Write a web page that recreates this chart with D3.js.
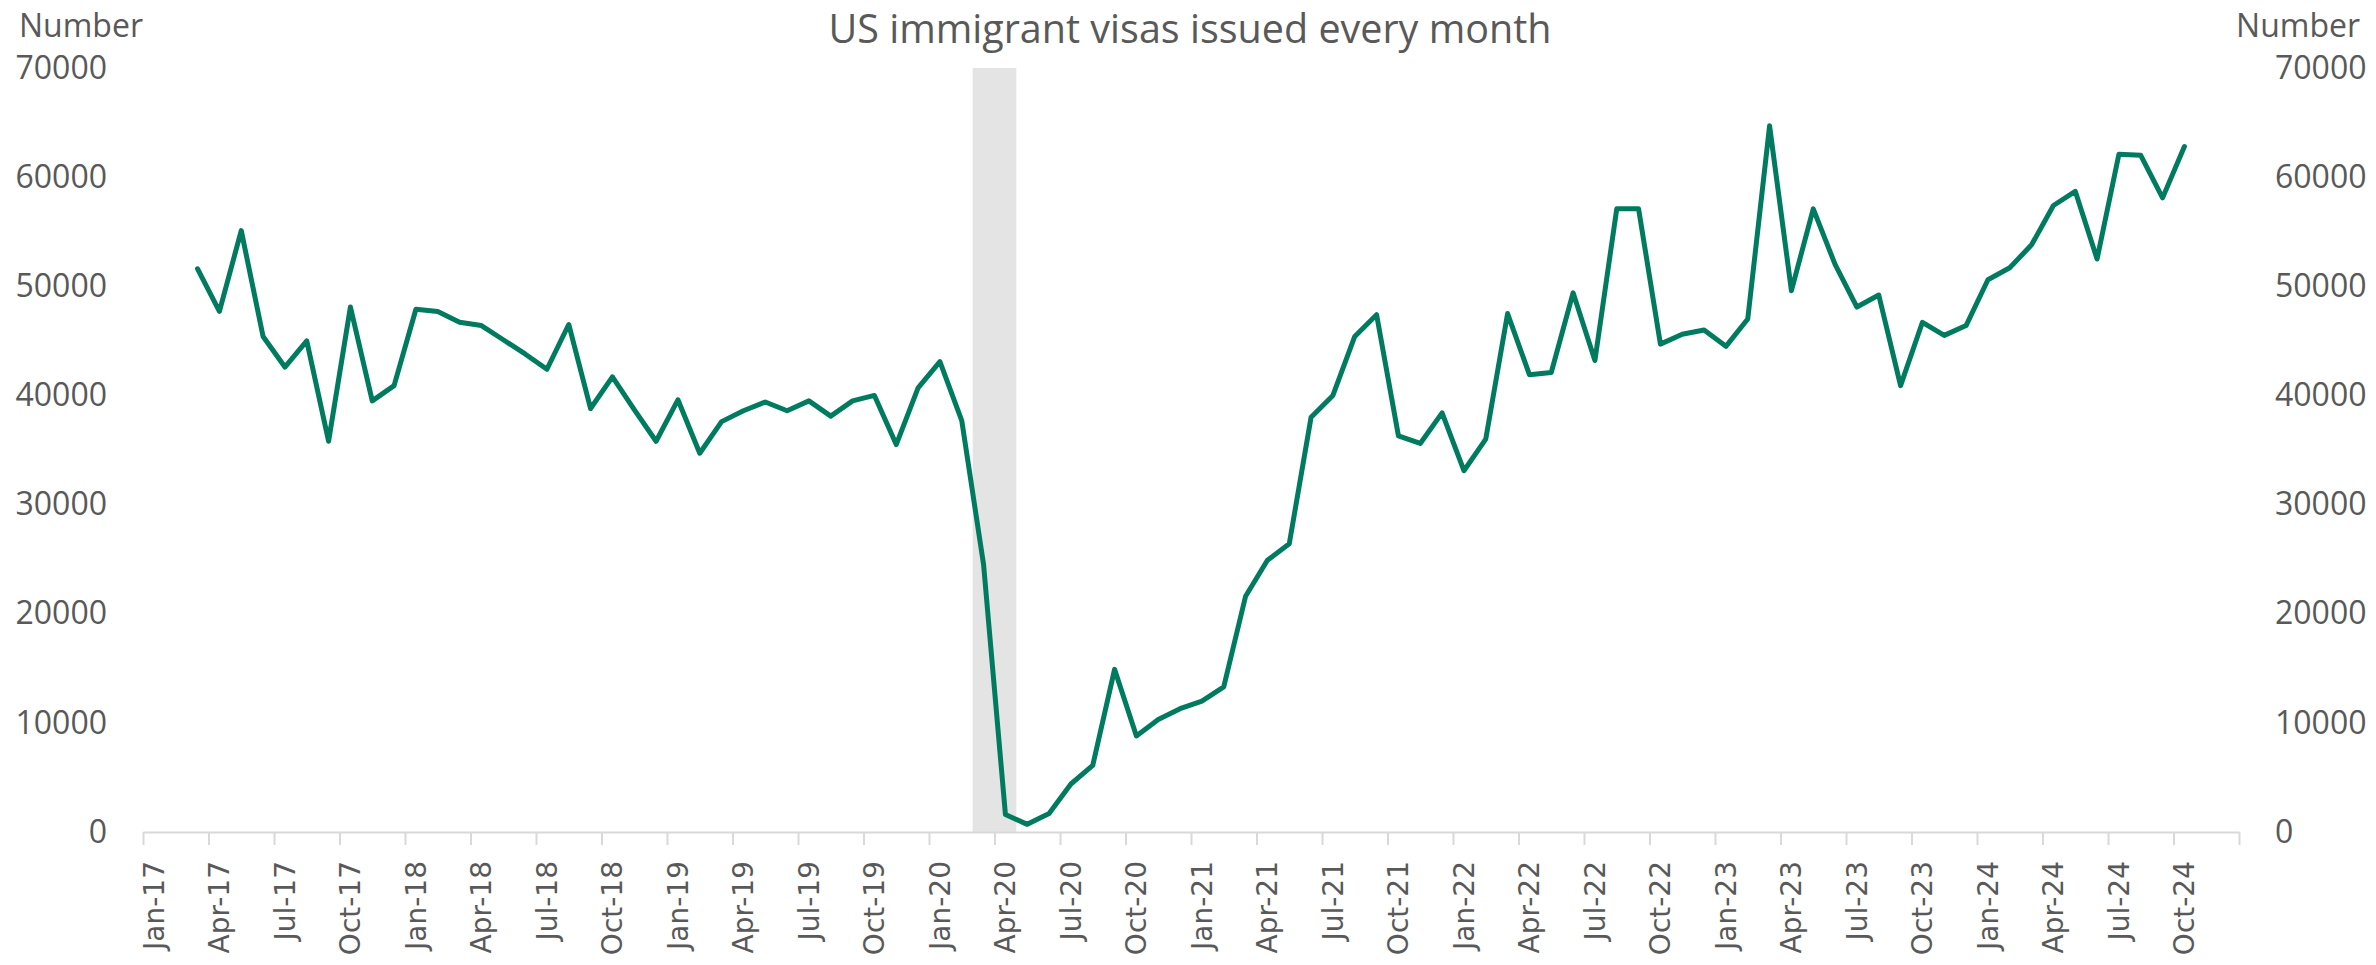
<!DOCTYPE html>
<html>
<head>
<meta charset="utf-8">
<script src="https://cdn.jsdelivr.net/npm/d3@7"></script>
<style>
  body { margin: 0; background: #ffffff; }
  text { font-family: "Open Sans", sans-serif; fill: #595959; }
</style>
</head>
<body>
<div id="chart"></div>
<script>
// month categories, Jan-17 .. Dec-24
var years = ["17", "18", "19", "20", "21", "22", "23", "24"];
var monthNames = ["Jan", "Feb", "Mar", "Apr", "May", "Jun", "Jul", "Aug", "Sep", "Oct", "Nov", "Dec"];
var months = [];
years.forEach(function(y) {
  monthNames.forEach(function(m) { months.push(m + "-" + y); });
});

// visas issued each month, Mar-17 .. Oct-24
var firstMonth = "Mar-17";
var visas = [
  51600, 47700, 55100, 45400, 42600, 45000, 35800, 48100, 39500, 40900,
  47900, 47700, 46700, 46400, 45100, 43800, 42400, 46500, 38800, 41700, 38700, 35800,
  39600, 34700, 37600, 38600, 39400, 38600, 39500, 38100, 39500, 40000, 35500, 40700,
  43100, 37700, 24500, 1600, 700, 1700, 4400, 6100, 14900, 8800, 10300, 11300,
  12000, 13300, 21600, 24900, 26400, 38000, 40000, 45400, 47400, 36300, 35600, 38400,
  33100, 36000, 47500, 41900, 42100, 49400, 43200, 57100, 57100, 44700, 45600, 46000,
  44500, 47000, 64700, 49600, 57100, 52000, 48100, 49200, 40900, 46700, 45500, 46400,
  50600, 51700, 53800, 57400, 58700, 52500, 62100, 62000, 58100, 62800
];

var yTicks = [0, 10000, 20000, 30000, 40000, 50000, 60000, 70000];
var shadedMonths = ["Mar-20", "Apr-20"];
var title = "US immigrant visas issued every month";
var axisTitle = "Number";

var svgWidth = 2376;
var svgHeight = 965;
var margin = { top: 68, bottom: 133, left: 143, right: 137 };
var width = svgWidth - margin.left - margin.right;
var height = svgHeight - margin.top - margin.bottom;

var svg = d3.select("#chart")
  .append("svg")
  .attr("width", svgWidth)
  .attr("height", svgHeight);

var chartGroup = svg.append("g")
  .attr("transform", `translate(${margin.left}, ${margin.top})`);

var start = months.indexOf(firstMonth);
var data = visas.map(function(v, i) {
  return { month: months[start + i], value: v };
});

// scales
var xBand = d3.scaleBand()
  .domain(months)
  .range([0, width])
  .padding(0);
var bw = xBand.bandwidth();

var xIndex = d3.scaleLinear()
  .domain([0, months.length])
  .range([0, width]);

var yLinearScale = d3.scaleLinear()
  .domain([0, 70000])
  .range([height, 0]);

// shaded period
chartGroup.append("rect")
  .attr("x", xBand(shadedMonths[0]))
  .attr("y", yLinearScale(70000))
  .attr("width", xBand(shadedMonths[shadedMonths.length - 1]) + bw - xBand(shadedMonths[0]))
  .attr("height", yLinearScale(0) - yLinearScale(70000))
  .attr("fill", "#e4e4e4");

// x axis: quarterly tick marks on month boundaries
var xAxis = d3.axisBottom(xIndex)
  .tickValues(d3.range(0, months.length + 1, 3))
  .tickSize(13)
  .tickSizeOuter(0)
  .tickFormat("");

var xAxisGroup = chartGroup.append("g")
  .attr("transform", `translate(0, ${height})`)
  .call(xAxis);
xAxisGroup.select(".domain").attr("stroke", "#d9d9d9").attr("stroke-width", 2);
xAxisGroup.selectAll(".tick line").attr("stroke", "#d9d9d9").attr("stroke-width", 2);

var quarterLabels = months.filter(function(m, i) { return i % 3 === 0; });
chartGroup.selectAll(".xlabel")
  .data(quarterLabels)
  .enter()
  .append("text")
  .attr("class", "xlabel")
  .attr("transform", d => `translate(${xBand(d) + bw / 2}, ${height + 29}) rotate(-90)`)
  .attr("dy", "0.35em")
  .attr("text-anchor", "end")
  .style("font-family", "'DejaVu Sans', Verdana, sans-serif")
  .style("font-size", "28px")
  .text(d => d);

// y axes, left and right
var yLeft = d3.axisLeft(yLinearScale).tickValues(yTicks).tickSize(0).tickPadding(0).tickFormat(d3.format("d"));
var yRight = d3.axisRight(yLinearScale).tickValues(yTicks).tickSize(0).tickPadding(0).tickFormat(d3.format("d"));

var yl = chartGroup.append("g")
  .attr("transform", "translate(-36, 0)")
  .call(yLeft);
var yr = chartGroup.append("g")
  .attr("transform", `translate(${width + 36}, 0)`)
  .call(yRight);
[yl, yr].forEach(function(g) {
  g.select(".domain").remove();
  g.selectAll("text")
    .style("font-family", "'Open Sans', sans-serif")
    .style("font-size", "32px")
    .attr("fill", "#595959");
});

// the line
var line = d3.line()
  .x(d => xBand(d.month) + bw / 2)
  .y(d => yLinearScale(d.value));

chartGroup.append("path")
  .datum(data)
  .attr("d", line)
  .attr("fill", "none")
  .attr("stroke", "#007b5f")
  .attr("stroke-width", 5)
  .attr("stroke-linejoin", "round")
  .attr("stroke-linecap", "round");

// titles
svg.append("text")
  .attr("x", 1190)
  .attr("y", 43)
  .attr("text-anchor", "middle")
  .style("font-size", "39.5px")
  .text(title);

svg.append("text")
  .attr("x", 19)
  .attr("y", 37)
  .style("font-size", "32px")
  .text(axisTitle);

svg.append("text")
  .attr("x", 2360)
  .attr("y", 37)
  .attr("text-anchor", "end")
  .style("font-size", "32px")
  .text(axisTitle);
</script>
</body>
</html>
